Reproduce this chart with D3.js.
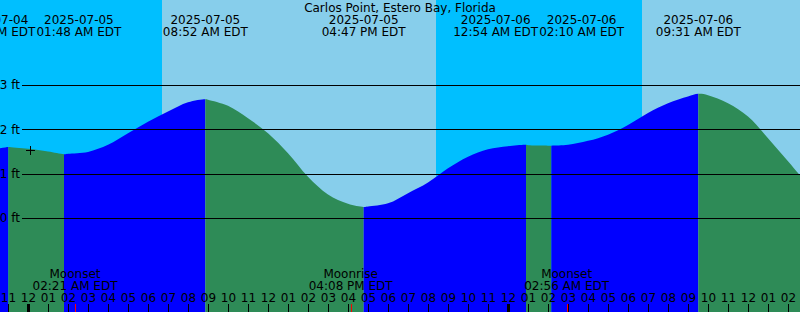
<!DOCTYPE html>
<html>
<head>
<meta charset="utf-8">
<script src="https://cdn.jsdelivr.net/npm/d3@7"></script>
<style>
body{margin:0;background:#fff;}
svg{display:block;font-family:"DejaVu Sans",sans-serif;font-size:12px;}
</style>
</head>
<body>
<svg id="chart" width="800" height="312"></svg>
<script>
var title="Carlos Point, Estero Bay, Florida";
var viewStart=new Date(2025,6,4,22,36), viewEnd=new Date(2025,6,6,14,36);

// hourly water level (ft), first value at 2025-07-04 22:00
var hourStart=new Date(2025,6,4,22,0);
var hourlyFt=[1.53,1.60,1.56,1.50,1.45,1.49,1.65,1.91,2.17,2.40,2.61,2.67,2.53,2.25,1.91,1.46,
              0.93,0.53,0.32,0.26,0.33,0.56,0.80,1.12,1.38,1.55,1.62,1.64,1.632,1.65,1.74,1.88,
              2.10,2.37,2.59,2.74,2.77,2.59,2.29,1.80,1.28,0.75];

// high / low tides
var tideTimes=[new Date(2025,6,4,23,1),new Date(2025,6,5,1,48),new Date(2025,6,5,8,52),new Date(2025,6,5,16,47),
               new Date(2025,6,6,0,54),new Date(2025,6,6,2,10),new Date(2025,6,6,9,31)];
var tideFt=[1.60,1.44,2.68,0.25,1.65,1.63,2.80];
var tideType=['H','L','H','L','H','L','H'];

// sunrise, sunset, sunrise
var sunTimes=[new Date(2025,6,5,6,42),new Date(2025,6,5,20,24),new Date(2025,6,6,6,42)];

var moonTimes=[new Date(2025,6,5,2,21),new Date(2025,6,5,16,8),new Date(2025,6,6,2,56)];
var moonNames=['Moonset','Moonrise','Moonset'];

var nowTime=new Date(2025,6,5,0,6), nowFt=1.545;
var yTicks=[0,1,2,3];

var width=800,height=312;
var svg=d3.select('#chart');
var x=d3.scaleTime().domain([viewStart,viewEnd]).range([0,width]);
var y=d3.scaleLinear().domain([0,3]).range([218,85]);
var fmtDate=d3.timeFormat('%Y-%m-%d');
var fmtTime=function(t){ return d3.timeFormat('%I:%M %p')(t)+' EDT'; };

// day / night background
var bounds=[viewStart].concat(sunTimes).concat([viewEnd]);
for(var i=0;i<bounds.length-1;i++){
    svg.append('rect')
        .attr('x',x(bounds[i]))
        .attr('y',0)
        .attr('width',x(bounds[i+1])-x(bounds[i]))
        .attr('height',height)
        .attr('fill',i%2==0?'#00bfff':'#87ceeb');
}

// water level points
var pts=hourlyFt.map(function(v,i){ return {t:d3.timeHour.offset(hourStart,i),ft:v}; });
tideTimes.forEach(function(t,i){ pts.push({t:t,ft:tideFt[i]}); });
pts.sort(function(a,b){ return a.t-b.t; });

var area=d3.area()
    .x(function(d){ return x(d.t); })
    .y0(height)
    .y1(function(d){ return y(d.ft); })
    .curve(d3.curveCatmullRom.alpha(0.5));

// rising = blue, falling = green
var segs=[pts[0].t].concat(tideTimes).concat([pts[pts.length-1].t]);
var defs=svg.append('defs');
for(var i=0;i<segs.length-1;i++){
    var rising = i<tideType.length ? tideType[i]=='H' : false;
    defs.append('clipPath').attr('id','seg'+i)
        .append('rect')
        .attr('x',x(segs[i]))
        .attr('y',0)
        .attr('width',x(segs[i+1])-x(segs[i]))
        .attr('height',height);
    svg.append('path')
        .datum(pts)
        .attr('d',area)
        .attr('clip-path','url(#seg'+i+')')
        .attr('fill',rising?'#0000ff':'#2e8b57');
}

// grid lines + ft labels
var yAxis=d3.axisLeft(y).tickValues(yTicks).tickSize(778).tickPadding(2)
    .tickFormat(function(d){ return d+' ft'; });
var gy=svg.append('g').attr('transform','translate(800,0)').call(yAxis);
gy.select('.domain').remove();
gy.attr('font-size',12).attr('font-family','DejaVu Sans');
gy.selectAll('line').attr('stroke','#000').attr('shape-rendering','crispEdges');
gy.selectAll('text').attr('fill','#000');

// "now" marker
var nx=Math.round(x(nowTime))+0.5, ny=Math.round(y(nowFt))+0.5;
svg.append('path')
    .attr('d','M'+(nx-4.5)+','+ny+'H'+(nx+4.5)+'M'+nx+','+(ny-4.5)+'V'+(ny+4.5))
    .attr('stroke','#000').attr('fill','none');

// hour axis
var xAxis=d3.axisTop(x).ticks(d3.timeHour.every(1)).tickFormat(d3.timeFormat('%I'))
    .tickSize(8).tickPadding(2);
var gx=svg.append('g').attr('transform','translate(0,'+height+')').call(xAxis);
gx.select('.domain').remove();
gx.attr('font-size',12).attr('font-family','DejaVu Sans');
gx.selectAll('text').attr('fill','#000');
gx.selectAll('line').attr('stroke','#000')
    .attr('stroke-width',function(d){ return d.getHours()==0?3:1; });

// moon events
moonTimes.forEach(function(t,i){
    var mx=Math.round(x(t))+0.5;
    svg.append('line').attr('x1',mx).attr('x2',mx).attr('y1',304).attr('y2',height)
        .attr('stroke','#ff0000');
    svg.append('text').attr('x',x(t)).attr('y',278).attr('text-anchor','middle').text(moonNames[i]);
    svg.append('text').attr('x',x(t)).attr('y',290).attr('text-anchor','middle').text(fmtTime(t));
});

// title
svg.append('text').attr('x',width/2).attr('y',12).attr('text-anchor','middle').text(title);

// tide labels, pushed apart where they overlap
var labels=tideTimes.map(function(t){ return {t:t,cx:x(t)}; });
var lab=svg.append('g').selectAll('g').data(labels).enter().append('g');
lab.append('text').attr('y',24).attr('text-anchor','middle').text(function(d){ return fmtDate(d.t); });
lab.append('text').attr('y',36).attr('text-anchor','middle').text(function(d){ return fmtTime(d.t); });
lab.each(function(d){
    d.w=d3.max(d3.select(this).selectAll('text').nodes(),function(n){ return n.getComputedTextLength(); });
});
for(var k=0;k<10;k++){
    for(var i=0;i<labels.length-1;i++){
        var a=labels[i],b=labels[i+1];
        var need=(a.w+b.w)/2+1;
        if(b.cx-a.cx<need){
            var s=(need-(b.cx-a.cx))/2;
            a.cx-=s; b.cx+=s;
        }
    }
}
lab.attr('transform',function(d){ return 'translate('+d.cx+',0)'; });
</script>
</body>
</html>
